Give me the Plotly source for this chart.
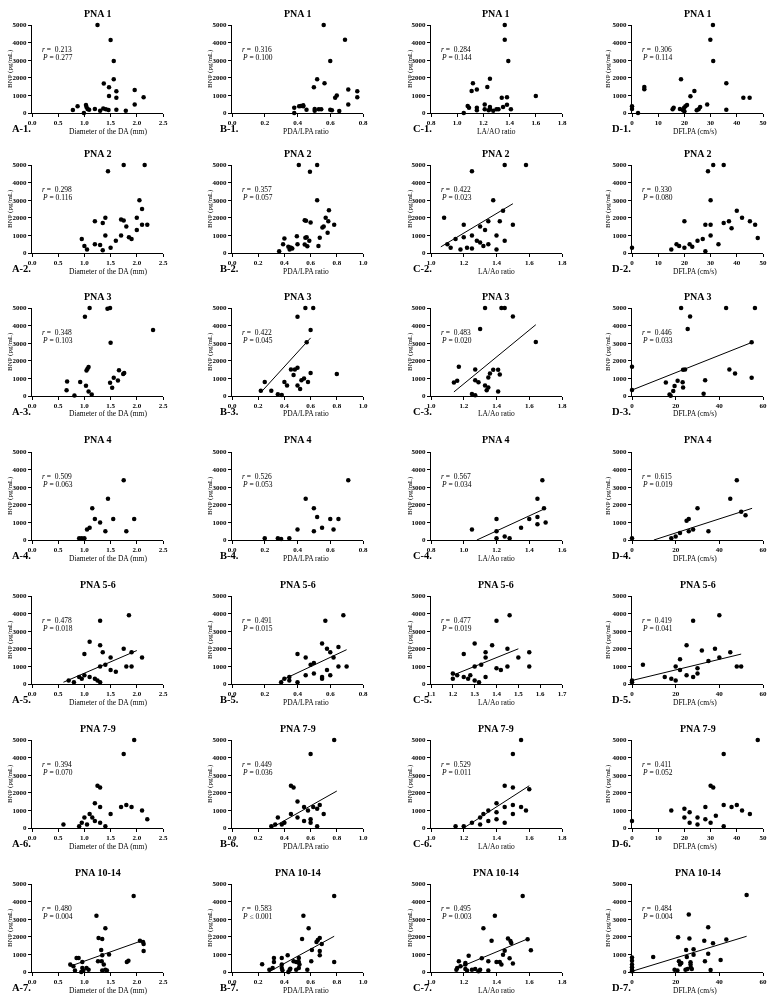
import plotly.graph_objects as go

# ------------------------------------------------------------------ data
row_titles = ["PNA 1", "PNA 2", "PNA 3", "PNA 4", "PNA 5-6", "PNA 7-9", "PNA 10-14"]
col_letters = ["A", "B", "C", "D"]

A_xtitle = ["Diameter of the DA (mm)"] * 7
B_xtitle = ["PDA/LPA ratio"] * 7
C_xtitle = ["LA/AO ratio"] + ["LA/Ao ratio"] * 6
D_xtitle = ["DFLPA (cm/s)"] * 7

A_r = ["0.213", "0.298", "0.348", "0.509", "0.478", "0.394", "0.480"]
A_p = ["= 0.277", "= 0.116", "= 0.103", "= 0.063", "= 0.018", "= 0.070", "= 0.004"]
B_r = ["0.316", "0.357", "0.422", "0.526", "0.491", "0.449", "0.583"]
B_p = ["= 0.100", "= 0.057", "= 0.045", "= 0.053", "= 0.015", "= 0.036", "\u2264 0.001"]
C_r = ["0.284", "0.422", "0.483", "0.567", "0.477", "0.529", "0.495"]
C_p = ["= 0.144", "= 0.023", "= 0.020", "= 0.034", "= 0.019", "= 0.011", "= 0.003"]
D_r = ["0.306", "0.330", "0.446", "0.615", "0.419", "0.411", "0.484"]
D_p = ["= 0.114", "= 0.080", "= 0.033", "= 0.019", "= 0.041", "= 0.052", "= 0.004"]

A_range = [[0, 2.5]] * 7
A_dtick = [0.5] * 7
B_range = [[0, 0.8], [0, 1.0], [0, 1.0], [0, 0.8], [0, 0.8], [0, 1.0], [0, 1.0]]
B_dtick = [0.2] * 7
C_range = [[0.8, 1.8], [1.0, 1.8], [1.0, 1.8], [0.8, 1.6], [1.1, 1.7], [1.0, 1.8], [1.0, 1.8]]
C_dtick = [0.2, 0.2, 0.2, 0.2, 0.1, 0.2, 0.2]
D_range = [[0, 50], [0, 50], [0, 60], [0, 60], [0, 60], [0, 50], [0, 60]]
D_dtick = [10, 10, 20, 20, 20, 10, 20]
y_range = [0, 5000]
y_dtick = 1000

# --- row 1
A1_x = [1.25, 1.50, 1.56, 1.56, 1.37, 1.47, 1.61, 1.96, 1.47, 1.61, 2.13, 1.96, 0.78, 0.87, 1.03, 1.04, 1.06, 1.09, 0.99, 1.20, 1.30, 1.36, 1.41, 1.46, 1.61, 1.79]
A1_y = [5000, 4150, 2950, 1920, 1670, 1460, 1240, 1310, 970, 860, 890, 490, 170, 380, 460, 340, 230, 190, 0, 230, 130, 250, 210, 170, 190, 130]
B1_x = [0.56, 0.69, 0.60, 0.52, 0.565, 0.50, 0.71, 0.765, 0.765, 0.64, 0.63, 0.71, 0.38, 0.38, 0.41, 0.42, 0.435, 0.455, 0.505, 0.505, 0.53, 0.545, 0.60, 0.61, 0.655, 0.435]
B1_y = [5000, 4160, 2950, 1920, 1690, 1460, 1330, 1240, 890, 990, 860, 490, 300, 0, 380, 400, 440, 190, 230, 130, 210, 210, 190, 150, 110, 380]
C1_x = [1.363, 1.363, 1.39, 1.25, 1.12, 1.23, 1.11, 1.15, 1.60, 1.34, 1.38, 1.08, 1.09, 1.15, 1.15, 1.21, 1.21, 1.25, 1.25, 1.24, 1.275, 1.30, 1.315, 1.35, 1.38, 1.41, 1.05]
C1_y = [5000, 4160, 2950, 1940, 1690, 1480, 1250, 1330, 970, 860, 890, 400, 300, 300, 150, 490, 210, 340, 210, 150, 130, 210, 210, 340, 470, 210, 0]
D1_x = [30.9, 29.9, 31.0, 18.7, 36.0, 4.7, 4.7, 23.8, 22.3, 42.5, 44.9, 28.7, 0, 0, 2.3, 15.5, 15.9, 18.3, 19.5, 19.9, 20.4, 21.0, 20.0, 24.7, 25.4, 26.0, 36.0]
D1_y = [5000, 4160, 2950, 1920, 1690, 1480, 1350, 1250, 950, 860, 870, 490, 380, 230, 0, 210, 300, 230, 150, 300, 380, 460, 100, 150, 210, 340, 190]

# --- row 2
A2_x = [1.45, 1.75, 2.15, 2.05, 2.10, 1.20, 1.35, 1.70, 1.75, 1.80, 2.00, 2.10, 2.20, 0.95, 1.00, 1.05, 1.20, 1.30, 1.40, 1.60, 1.70, 1.90, 1.85, 2.00, 1.40, 1.50, 1.35]
A2_y = [4650, 5000, 5000, 3000, 2500, 1800, 1700, 1900, 1850, 1500, 2000, 1600, 1600, 800, 400, 200, 500, 450, 1000, 700, 1000, 800, 900, 1300, 2000, 300, 150]
B2_x = [0.51, 0.65, 0.595, 0.65, 0.74, 0.715, 0.555, 0.565, 0.60, 0.735, 0.78, 0.70, 0.69, 0.73, 0.495, 0.56, 0.40, 0.59, 0.67, 0.445, 0.50, 0.555, 0.575, 0.66, 0.43, 0.45, 0.44, 0.36, 0.46, 0.39, 0.57]
B2_y = [5000, 5000, 4620, 3000, 2430, 2000, 1860, 1830, 1730, 1810, 1600, 1500, 1450, 1150, 950, 870, 820, 700, 870, 300, 500, 480, 380, 400, 350, 300, 200, 100, 250, 500, 900]
C2_x = [1.45, 1.58, 1.25, 1.08, 1.38, 1.42, 1.44, 1.30, 1.35, 1.20, 1.15, 1.10, 1.12, 1.18, 1.20, 1.25, 1.28, 1.32, 1.35, 1.40, 1.40, 1.45, 1.25, 1.22, 1.30, 1.33, 1.50]
C2_y = [5000, 5000, 4650, 2000, 3000, 1800, 2400, 1500, 1800, 1600, 800, 500, 300, 200, 900, 1000, 700, 400, 500, 200, 1000, 700, 250, 300, 600, 1300, 1600]
D2_x = [31, 35, 29, 30, 40, 42, 45, 37, 20, 28, 30, 35, 47, 48, 25, 22, 18, 15, 20, 23, 27, 30, 33, 38, 28, 0, 17]
D2_y = [5000, 5000, 4650, 3000, 2400, 2000, 1800, 1800, 1800, 1600, 1600, 1700, 1600, 850, 700, 500, 400, 200, 300, 350, 800, 1000, 500, 1400, 100, 300, 500]

# --- row 3
A3_x = [1.10, 1.01, 1.44, 1.49, 2.31, 1.50, 1.06, 1.08, 1.04, 0.67, 0.66, 0.92, 0.81, 1.08, 1.14, 1.03, 1.49, 1.53, 1.56, 1.64, 1.66, 1.74, 1.76]
A3_y = [5000, 4500, 4960, 5000, 3750, 3020, 1550, 1650, 1450, 830, 330, 800, 30, 250, 80, 580, 750, 470, 1040, 880, 1460, 1250, 1300]
B3_x = [0.56, 0.62, 0.50, 0.60, 0.57, 0.45, 0.48, 0.50, 0.40, 0.42, 0.30, 0.22, 0.25, 0.35, 0.38, 0.50, 0.53, 0.55, 0.58, 0.47, 0.52, 0.60, 0.80]
B3_y = [5000, 5000, 4500, 3750, 3050, 1500, 1500, 1600, 800, 600, 300, 300, 800, 100, 50, 600, 900, 1000, 800, 1200, 400, 1300, 1250]
C3_x = [1.33, 1.43, 1.45, 1.50, 1.30, 1.64, 1.17, 1.14, 1.16, 1.27, 1.27, 1.29, 1.25, 1.27, 1.33, 1.34, 1.35, 1.35, 1.36, 1.38, 1.41, 1.42, 1.41]
C3_y = [5000, 5000, 5000, 4520, 3800, 3070, 1660, 760, 860, 1500, 900, 780, 110, 40, 590, 320, 480, 1050, 1280, 1490, 1490, 1220, 250]
D3_x = [0, 0, 22.5, 26.6, 25.5, 43.1, 56.3, 54.8, 44.6, 47.2, 54.8, 23.4, 24.3, 15.5, 17.2, 17.7, 18.9, 19.5, 20.9, 23.2, 23.4, 33.5, 32.8]
D3_y = [1660, 340, 5000, 4520, 3800, 5000, 5000, 3050, 1500, 1280, 1030, 1490, 1500, 760, 80, 20, 290, 570, 860, 780, 480, 900, 130]

# --- row 4
A4_x = [1.75, 1.45, 1.15, 1.30, 1.10, 1.05, 1.20, 1.55, 1.95, 1.40, 0.90, 0.95, 1.00, 1.80]
A4_y = [3400, 2350, 1800, 1000, 700, 600, 1200, 1200, 1200, 500, 100, 100, 100, 500]
B4_x = [0.71, 0.45, 0.50, 0.52, 0.60, 0.65, 0.40, 0.50, 0.55, 0.62, 0.20, 0.28, 0.30, 0.35]
B4_y = [3400, 2350, 1800, 1300, 1200, 1200, 600, 500, 700, 600, 100, 100, 50, 100]
C4_x = [1.48, 1.45, 1.49, 1.45, 1.40, 1.20, 1.05, 1.20, 1.25, 1.28, 1.35, 1.45, 1.50, 1.20]
C4_y = [3400, 2350, 1800, 1300, 1200, 1200, 600, 500, 200, 100, 700, 900, 1000, 100]
D4_x = [48, 45, 30, 26, 25, 28, 26, 22, 50, 52, 35, 18, 0, 20]
D4_y = [3400, 2350, 1800, 1200, 1100, 600, 500, 400, 1600, 1400, 500, 100, 100, 200]

# --- row 5
A5_x = [1.85, 1.30, 1.30, 1.10, 1.35, 1.75, 1.90, 2.10, 1.80, 1.90, 1.50, 1.40, 1.30, 1.00, 0.90, 0.95, 1.00, 1.10, 1.20, 1.25, 1.30, 0.80, 0.70, 1.50, 1.60]
A5_y = [3900, 3600, 2200, 2400, 1800, 2000, 1800, 1500, 1000, 1000, 1500, 1100, 1000, 1700, 400, 300, 500, 400, 300, 200, 100, 100, 200, 800, 700]
B5_x = [0.68, 0.57, 0.55, 0.58, 0.60, 0.65, 0.62, 0.70, 0.65, 0.50, 0.45, 0.48, 0.40, 0.35, 0.32, 0.35, 0.45, 0.50, 0.55, 0.55, 0.60, 0.40, 0.30, 0.58]
B5_y = [3900, 3600, 2300, 2000, 1800, 2100, 1500, 1000, 1000, 1200, 1500, 1100, 1700, 400, 300, 200, 500, 600, 400, 300, 500, 100, 100, 800]
C5_x = [1.46, 1.40, 1.38, 1.30, 1.35, 1.45, 1.55, 1.50, 1.45, 1.55, 1.35, 1.33, 1.30, 1.25, 1.20, 1.22, 1.25, 1.27, 1.30, 1.32, 1.28, 1.35, 1.40, 1.42, 1.20]
C5_y = [3900, 3600, 2200, 2300, 1800, 2000, 1800, 1500, 1000, 1000, 1500, 1100, 1000, 1700, 600, 500, 400, 300, 200, 100, 500, 400, 900, 800, 300]
D5_x = [40, 28, 25, 32, 38, 45, 40, 48, 50, 35, 22, 5, 20, 15, 18, 20, 25, 30, 28, 0, 0, 22, 30]
D5_y = [3900, 3600, 2200, 1900, 2000, 1800, 1500, 1000, 1000, 1300, 1400, 1100, 1000, 400, 300, 200, 500, 600, 400, 100, 200, 800, 900]

# --- row 6
A6_x = [1.95, 1.75, 1.25, 1.30, 1.20, 1.30, 1.70, 1.80, 1.90, 2.10, 2.20, 1.00, 0.95, 1.05, 1.10, 1.15, 1.20, 1.30, 1.40, 1.50, 0.60, 0.90]
A6_y = [5000, 4200, 2400, 2300, 1400, 1200, 1200, 1300, 1200, 1000, 500, 600, 300, 200, 800, 600, 400, 300, 100, 800, 200, 100]
B6_x = [0.78, 0.60, 0.45, 0.47, 0.50, 0.55, 0.62, 0.65, 0.67, 0.58, 0.60, 0.35, 0.40, 0.38, 0.45, 0.50, 0.55, 0.60, 0.65, 0.30, 0.70, 0.33]
B6_y = [5000, 4200, 2400, 2300, 1500, 1200, 1200, 1100, 1300, 1000, 500, 600, 300, 200, 800, 600, 400, 300, 100, 100, 800, 200]
C6_x = [1.55, 1.50, 1.45, 1.50, 1.40, 1.45, 1.50, 1.55, 1.58, 1.60, 1.35, 1.30, 1.25, 1.20, 1.32, 1.35, 1.40, 1.45, 1.30, 1.15, 1.50, 1.40]
C6_y = [5000, 4200, 2400, 2300, 1400, 1200, 1300, 1200, 1000, 2200, 1000, 600, 300, 100, 800, 400, 500, 300, 200, 100, 800, 900]
D6_x = [48, 35, 30, 31, 28, 35, 38, 40, 42, 45, 20, 22, 25, 20, 22, 25, 28, 30, 15, 0, 35, 32]
D6_y = [5000, 4200, 2400, 2300, 1200, 1300, 1200, 1300, 1000, 800, 1100, 900, 600, 600, 300, 200, 500, 300, 1000, 400, 100, 700]

# --- row 7
A7_x = [1.94, 1.23, 1.40, 1.27, 1.34, 1.32, 1.47, 1.34, 1.33, 1.37, 1.26, 0.89, 0.85, 0.73, 0.79, 0.82, 0.96, 0.96, 0.98, 1.04, 1.08, 0.94, 1.34, 1.40, 1.43, 1.81, 1.84, 2.06, 2.12, 2.13, 2.13]
A7_y = [4320, 3200, 2480, 1930, 1870, 1250, 1000, 950, 610, 420, 610, 800, 800, 420, 320, 80, 570, 230, 80, 230, 130, 0, 80, 130, 80, 570, 640, 1780, 1700, 1590, 1190]
B7_x = [0.78, 0.545, 0.585, 0.535, 0.67, 0.655, 0.645, 0.685, 0.61, 0.67, 0.67, 0.23, 0.32, 0.32, 0.38, 0.425, 0.51, 0.51, 0.47, 0.49, 0.605, 0.78, 0.285, 0.31, 0.38, 0.38, 0.385, 0.44, 0.445, 0.43, 0.49, 0.51, 0.575, 0.515]
B7_y = [4320, 3200, 2480, 1870, 1930, 1820, 1700, 1590, 1250, 1190, 950, 440, 800, 570, 800, 950, 800, 570, 610, 570, 610, 570, 130, 230, 420, 230, 100, 130, 190, 0, 130, 230, 130, 420]
C7_x = [1.56, 1.39, 1.32, 1.47, 1.37, 1.485, 1.49, 1.45, 1.59, 1.61, 1.44, 1.48, 1.50, 1.35, 1.40, 1.42, 1.43, 1.31, 1.23, 1.17, 1.21, 1.21, 1.18, 1.16, 1.155, 1.21, 1.22, 1.25, 1.27, 1.29, 1.30, 1.35]
C7_y = [4320, 3200, 2480, 1910, 1780, 1760, 1650, 1210, 1860, 1230, 980, 780, 490, 610, 570, 570, 420, 780, 930, 610, 510, 420, 320, 230, 130, 170, 80, 130, 170, 40, 130, 80]
D7_x = [52.5, 26.0, 34.9, 21.1, 26.3, 33.1, 37.1, 43.2, 24.8, 28.2, 28.2, 34.9, 25.1, 9.7, 21.5, 22.6, 22.0, 26.8, 26.8, 33.4, 40.6, 26.9, 27.4, 25.4, 24.5, 20.8, 19.5, 36.0, 0, 0, 0, 0, 0, 0]
D7_y = [4380, 3260, 2540, 1970, 1910, 1780, 1630, 1840, 1250, 1290, 980, 1040, 850, 850, 610, 510, 420, 550, 420, 610, 680, 270, 170, 170, 130, 80, 130, 110, 830, 640, 420, 270, 130, 40]

# --- regression lines (end points)
C2_fit_x, C2_fit_y = [1.06, 1.50], [350, 2800]
B3_fit_x, B3_fit_y = [0.22, 0.60], [200, 3300]
C3_fit_x, C3_fit_y = [1.14, 1.64], [230, 4050]
D3_fit_x, D3_fit_y = [0, 55], [340, 3050]
C4_fit_x, C4_fit_y = [1.08, 1.50], [0, 1800]
D4_fit_x, D4_fit_y = [10, 55], [0, 1800]
A5_fit_x, A5_fit_y = [0.60, 2.00], [100, 1900]
B5_fit_x, B5_fit_y = [0.30, 0.70], [200, 1950]
C5_fit_x, C5_fit_y = [1.20, 1.50], [500, 2000]
D5_fit_x, D5_fit_y = [0, 50], [200, 1700]
B6_fit_x, B6_fit_y = [0.30, 0.80], [0, 2100]
C6_fit_x, C6_fit_y = [1.20, 1.60], [0, 2400]
A7_fit_x, A7_fit_y = [0.72, 2.10], [320, 1780]
B7_fit_x, B7_fit_y = [0.28, 0.78], [0, 2030]
C7_fit_x, C7_fit_y = [1.16, 1.59], [210, 1880]
D7_fit_x, D7_fit_y = [0, 52.5], [40, 2030]

# ------------------------------------------------------------------ assembly
g = globals()
cols = {
    "A": (A_range, A_dtick, A_xtitle, A_r, A_p, 1),
    "B": (B_range, B_dtick, B_xtitle, B_r, B_p, 1),
    "C": (C_range, C_dtick, C_xtitle, C_r, C_p, 1),
    "D": (D_range, D_dtick, D_xtitle, D_r, D_p, 0),
}

W, H = 772, 1000
col_left = [32, 232, 431, 632]
row_top = [25, 165, 308, 452, 596, 740, 884]
PW, PH = 131, 88
label_off = [22, 14, 20, 22]
xtitle_shift = [10, 8, 0, -3]
ytitle_off = [22, 22, 21, 24]

FONT = "Liberation Serif"
BLACK = "#000000"
tickfont = dict(family=FONT, size=7, color=BLACK, weight="bold")

fig = go.Figure()
layout = {}
annotations = []


def ticks_for(rng, dt, dec):
    vals, k = [], 0
    while True:
        v = round(rng[0] + k * dt, 6)
        if v > rng[1] + 1e-9:
            break
        vals.append(v)
        k += 1
    txt = [f"{v:.{dec}f}" for v in vals]
    return vals, txt


yvals, ytxt = ticks_for(y_range, y_dtick, 0)

for r in range(7):
    for c, L in enumerate(col_letters):
        i = r * 4 + c + 1
        rng, dt, xt, rv, pv, dec = cols[L]
        xs = g[f"{L}{r+1}_x"]
        ys = g[f"{L}{r+1}_y"]
        xname = "x" if i == 1 else f"x{i}"
        yname = "y" if i == 1 else f"y{i}"
        fig.add_trace(go.Scatter(
            x=xs, y=ys, mode="markers", xaxis=xname, yaxis=yname,
            marker=dict(color=BLACK, size=4.5), cliponaxis=False,
            showlegend=False, hoverinfo="skip"))
        fk = f"{L}{r+1}_fit_x"
        if fk in g:
            fig.add_trace(go.Scatter(
                x=g[fk], y=g[f"{L}{r+1}_fit_y"], mode="lines",
                xaxis=xname, yaxis=yname, line=dict(color=BLACK, width=1),
                showlegend=False, hoverinfo="skip", cliponaxis=False))
        left = col_left[c]
        top = row_top[r]
        xdom = [left / W, (left + PW) / W]
        ydom = [1 - (top + PH) / H, 1 - top / H]
        axcommon = dict(showline=True, linecolor=BLACK, linewidth=1,
                        ticks="outside", ticklen=3, tickwidth=1, tickcolor=BLACK,
                        showgrid=False, zeroline=False, tickfont=tickfont,
                        fixedrange=True)
        xv, xtx = ticks_for(rng[r], dt[r], dec)
        layout["xaxis" if i == 1 else f"xaxis{i}"] = dict(
            domain=xdom, anchor=yname, range=rng[r], tickmode="array",
            tickvals=xv, ticktext=xtx, **axcommon)
        layout["yaxis" if i == 1 else f"yaxis{i}"] = dict(
            domain=ydom, anchor=xname, range=y_range, tickmode="array",
            tickvals=yvals, ticktext=ytxt, **axcommon)
        cx = (left + PW / 2) / W
        # panel title
        annotations.append(dict(text=f"<b>{row_titles[r]}</b>", xref="paper", yref="paper",
                                x=cx, y=1 - (top - 12) / H, showarrow=False,
                                xanchor="center", yanchor="middle",
                                font=dict(family=FONT, size=10, color=BLACK)))
        # x title
        annotations.append(dict(text=xt[r], xref="paper", yref="paper",
                                x=(left + PW / 2 + xtitle_shift[c]) / W,
                                y=1 - (top + PH + 18) / H, showarrow=False,
                                xanchor="center", yanchor="middle",
                                font=dict(family=FONT, size=7.5, color=BLACK)))
        # y title
        annotations.append(dict(text="BNP (pg/mL)", xref="paper", yref="paper",
                                x=(left - ytitle_off[c]) / W, y=1 - (top + PH / 2) / H,
                                showarrow=False, xanchor="center", yanchor="middle",
                                textangle=-90,
                                font=dict(family=FONT, size=7, color=BLACK)))
        # panel label
        annotations.append(dict(text=f"<b>{L}-{r+1}.</b>", xref="paper", yref="paper",
                                x=(left - label_off[c]) / W, y=1 - (top + PH + 15) / H,
                                showarrow=False, xanchor="left", yanchor="middle",
                                font=dict(family=FONT, size=10.5, color=BLACK)))
        # statistics
        annotations.append(dict(text=f"<i>r</i> =  {rv[r]}", xref="paper",
                                yref="paper", x=(left + 8) / W, y=1 - (top + 24) / H,
                                showarrow=False, xanchor="left", yanchor="middle",
                                font=dict(family=FONT, size=7.5, color=BLACK)))
        annotations.append(dict(text=f"<i>P</i> {pv[r]}", xref="paper",
                                yref="paper", x=(left + 8) / W, y=1 - (top + 32.5) / H,
                                showarrow=False, xanchor="left", yanchor="middle",
                                font=dict(family=FONT, size=7.5, color=BLACK)))

fig.update_layout(template="none", width=W, height=H,
                  margin=dict(l=0, r=0, t=0, b=0),
                  font=dict(family=FONT, color=BLACK),
                  paper_bgcolor="white", plot_bgcolor="white",
                  annotations=annotations, **layout)
fig.write_html("out.html",
               config={"displayModeBar": False, "staticPlot": True},
               post_script="document.body.style.margin='0';"
                           "document.body.style.padding='0';"
                           "document.body.style.overflow='hidden';"
                           "document.body.style.filter='grayscale(1)';")
